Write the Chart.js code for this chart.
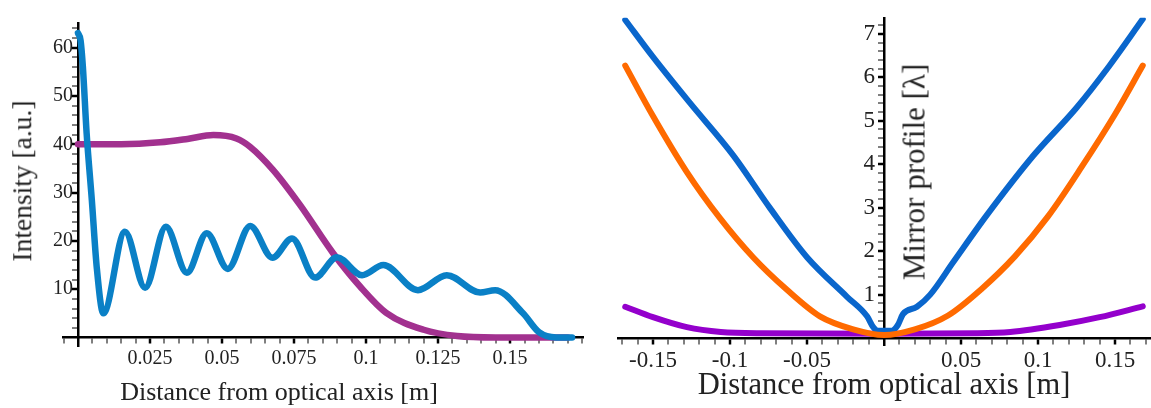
<!DOCTYPE html>
<html>
<head>
<meta charset="utf-8">
<script src="https://cdn.jsdelivr.net/npm/chart.js@4"></script>
<style>
    body { margin: 0; background: #fff; }
    #page { position: relative; width: 1151px; height: 408px; overflow: hidden; font-family: 'Liberation Serif', serif; color: #222; }
    .box { position: absolute; top: 0; height: 408px; }
    .title { position: absolute; white-space: nowrap; line-height: 1; transform: translate(-50%, -50%); }
</style>
</head>
<body>
<div id="page">
    <div class="box" style="left:0; width:590px;"><canvas id="intensityChart"></canvas></div>
    <div class="box" style="left:590px; width:561px;"><canvas id="profileChart"></canvas></div>

    <div class="title" style="left:279px; top:392px; font-size:26px;">Distance from optical axis [m]</div>
    <div class="title" style="left:22px; top:181px; font-size:27.5px; transform: translate(-50%, -50%) rotate(-90deg);">Intensity [a.u.]</div>
    <div class="title" style="left:884px; top:384px; font-size:30.5px;">Distance from optical axis [m]</div>
    <div class="title" style="left:914px; top:172px; font-size:31px; transform: translate(-50%, -50%) rotate(-90deg);">Mirror profile [λ]</div>
</div>

<script>
// Left panel: intensity vs distance

const oscX = [0, 0.0009, 0.0017, 0.003, 0.0048, 0.0065, 0.0088, 0.0163, 0.0233, 0.0305, 0.0378, 0.0447,
    0.052, 0.0598, 0.0675, 0.0743, 0.0823, 0.0899, 0.0986, 0.106, 0.118, 0.128, 0.1396, 0.1448,
    0.1545, 0.16, 0.166, 0.1715];
const oscY = [63, 61.5, 56, 42.3, 28.5, 14.6, 5, 21.9, 10.3, 22.9, 13.4, 21.6,
    14.2, 23.1, 16.5, 20.5, 12.4, 16.6, 12.9, 15, 9.8, 12.9, 9.3, 9.8,
    5, 1.1, 0, 0];

const flatX = [0, 0.015, 0.0285, 0.038, 0.047, 0.055, 0.0597, 0.0677, 0.077, 0.0885, 0.098, 0.107,
    0.12, 0.1316, 0.145, 0.17];
const flatY = [40, 40, 40.4, 41.1, 41.9, 41.2, 39.5, 34.7, 27.5, 17.5, 10.5, 5.1,
    1.6, 0.3, 0, 0];

// Right panel: mirror profile

const blueX = [-0.168, -0.15, -0.126, -0.098, -0.074, -0.05, -0.024, -0.011, -0.007, -0.004,
    0.005, 0.009, 0.0123, 0.0214, 0.03, 0.045, 0.067, 0.097, 0.125, 0.146, 0.168];
const blueY = [7.32, 6.47, 5.41, 4.21, 2.99, 1.86, 0.95, 0.5, 0.25, 0.17,
    0.17, 0.3, 0.55, 0.72, 1.0, 1.75, 2.84, 4.2, 5.3, 6.25, 7.34];

const orangeX = [-0.168, -0.15, -0.128, -0.1065, -0.085, -0.063, -0.0416, -0.02, 0,
    0.02, 0.0416, 0.063, 0.085, 0.1065, 0.128, 0.15, 0.168];
const orangeY = [6.27, 5.11, 3.82, 2.76, 1.86, 1.11, 0.5, 0.2, 0.07,
    0.2, 0.52, 1.12, 1.88, 2.8, 3.92, 5.15, 6.27];

const violetX = [-0.168, -0.15, -0.128, -0.106, -0.08, 0, 0.06, 0.082, 0.114, 0.14, 0.168];
const violetY = [0.72, 0.48, 0.25, 0.14, 0.11, 0.1, 0.11, 0.14, 0.3, 0.48, 0.73];

const leftTicksX = [0.025, 0.05, 0.075, 0.1, 0.125, 0.15];
const leftTicksY = [10, 20, 30, 40, 50, 60];
const rightTicksX = [-0.15, -0.1, -0.05, 0.05, 0.1, 0.15];
const rightTicksY = [1, 2, 3, 4, 5, 6, 7];


Chart.defaults.font.family = "'Liberation Serif', serif";
Chart.defaults.color = '#222';

const toPoints = (xs, ys) => xs.map((x, i) => ({ x: x, y: ys[i] }));
const isMajor = (v, list) => list.some(t => Math.abs(t - v) < 1e-6);

const line = (data, color, width) => ({
    data: data,
    borderColor: color,
    borderWidth: width,
    borderCapStyle: 'round',
    borderJoinStyle: 'round',
    pointRadius: 0,
    fill: false,
    cubicInterpolationMode: 'monotone',
});

// Mathematica-like axis: crosses at the origin, labels only on major ticks
const axis = (min, max, position, step, majors, fontSize, suffix) => ({
    type: 'linear',
    min: min,
    max: max,
    position: position,
    border: { display: true, color: '#000', width: 2.5 },
    grid: {
        drawOnChartArea: false,
        drawTicks: true,
        tickLength: 5,
        lineWidth: 2,
        tickColor: '#000',
        tickWidth: ctx => isMajor(ctx.tick.value, majors) ? 2.5 : 1,
    },
    ticks: {
        stepSize: step,
        autoSkip: false,
        includeBounds: false,
        maxRotation: 0,
        padding: 4,
        font: { size: fontSize },
        callback: v => isMajor(v, majors) ? String(+v.toFixed(3)) + (suffix || '') : '',
    },
});


const intensityChart = new Chart(document.getElementById('intensityChart'), {
    type: 'line',
    data: {
        datasets: [
            line(toPoints(oscX, oscY), '#0a80c6', 6.5),
            line(toPoints(flatX, flatY), '#a2318f', 6.5),
        ],
    },
    options: {
        responsive: true,
        maintainAspectRatio: false,
        animation: false,
        layout: { padding: { left: 63, right: 7, top: 23.5, bottom: 62.3 } },
        plugins: { legend: { display: false }, tooltip: { enabled: false } },
        scales: {
            x: axis(-0.0052, 0.1753, { y: 0 }, 0.005, leftTicksX, 20),
            // labels sit on the axis line here, so keep a small gap after them
            y: axis(-1.7, 65, { x: 0 }, 2, leftTicksY, 20, '\u2005'),
        },
    },
});


const profileChart = new Chart(document.getElementById('profileChart'), {
    type: 'line',
    data: {
        datasets: [
            line(toPoints(orangeX, orangeY), '#ff6a00', 6),
            line(toPoints(blueX, blueY), '#0a66cc', 6),
            line(toPoints(violetX, violetY), '#9400cc', 6),
        ],
    },
    options: {
        responsive: true,
        maintainAspectRatio: false,
        animation: false,
        layout: { padding: { left: 28, right: 1, top: 7, bottom: 63 } },
        plugins: { legend: { display: false }, tooltip: { enabled: false } },
        scales: {
            x: axis(-0.1727, 0.1727, { y: 0 }, 0.01, rightTicksX, 23),
            y: axis(-0.16, 7.37, 'center', 0.2, rightTicksY, 23),
        },
    },
});
</script>
</body>
</html>
